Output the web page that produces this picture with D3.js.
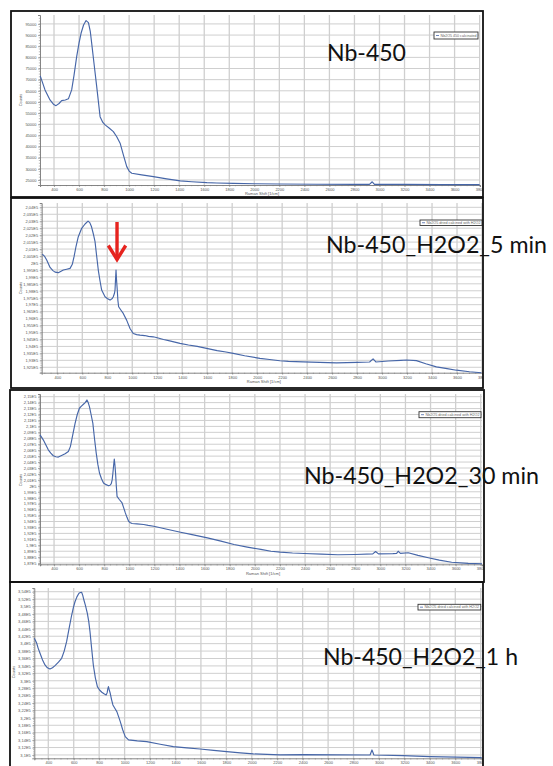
<!DOCTYPE html>
<html>
<head>
<meta charset="utf-8">
<script src="https://cdn.jsdelivr.net/npm/d3@7/dist/d3.min.js"></script>
<style>
  body { margin: 0; background: #fff; }
  svg { display: block; }
</style>
</head>
<body>
<svg id="chart" width="553" height="766"></svg>
<script>
// ---- Raman spectra: Nb-450 before and after H2O2 treatment ----

const xTickValues = [400, 600, 800, 1000, 1200, 1400, 1600, 1800, 2000, 2200, 2400, 2600, 2800, 3000, 3200, 3400, 3600, 3800];

// Nb-450
const shift450 = [290, 328, 368, 395, 416, 440, 461, 490, 515, 541, 560, 581, 600, 616, 636, 656, 675, 690, 701, 720, 741, 768, 790, 808, 840, 874, 900, 928, 955, 981, 1000, 1021, 1100, 1194, 1300, 1408, 1500, 1621, 1700, 1834, 2000, 2200, 2500, 2800, 2920, 2942, 2960, 3200, 3500, 3800];
const counts450 = [71700, 65400, 60900, 59000, 58350, 59300, 60600, 60900, 61400, 65400, 72000, 80300, 86500, 90800, 94500, 96500, 95600, 91500, 86300, 77000, 66900, 53400, 50800, 49700, 48300, 46700, 44500, 41500, 36000, 31000, 29000, 28000, 27300, 26500, 25500, 24600, 24200, 23800, 23650, 23500, 23300, 23200, 23100, 23050, 23050, 24200, 23050, 23000, 22950, 22900];
const yTicks450 = [95000, 90000, 85000, 80000, 75000, 70000, 65000, 60000, 55000, 50000, 45000, 40000, 35000, 30000, 25000];

// Nb-450_H2O2_5 min
const shift5min = [280, 300, 315, 342, 365, 382, 408, 430, 448, 475, 502, 520, 534, 550, 568, 595, 622, 646, 660, 674, 688, 702, 715, 728, 742, 755, 782, 800, 822, 840, 848, 857, 862, 866, 870, 874, 880, 885, 891, 910, 928, 955, 982, 1008, 1035, 1062, 1100, 1130, 1168, 1200, 1250, 1300, 1382, 1450, 1520, 1595, 1680, 1750, 1808, 1900, 2022, 2100, 2182, 2250, 2368, 2500, 2635, 2800, 2900, 2928, 2950, 3050, 3150, 3195, 3275, 3350, 3435, 3520, 3595, 3700, 3795];
const counts5min = [200640, 200450, 200210, 199680, 199450, 199340, 199300, 199400, 199490, 199550, 199610, 199900, 200450, 201200, 201890, 202490, 202800, 203010, 202900, 202600, 202100, 201530, 200500, 199490, 198700, 198050, 197570, 197450, 197330, 197450, 197570, 197800, 198050, 198800, 199490, 198800, 198050, 197300, 196850, 196600, 196370, 195890, 195290, 194930, 194850, 194810, 194780, 194720, 194690, 194620, 194500, 194400, 194220, 194100, 194000, 193860, 193700, 193600, 193500, 193330, 193140, 193060, 192970, 192920, 192890, 192850, 192820, 192850, 192880, 193100, 192880, 192950, 193000, 193020, 192980, 192750, 192530, 192400, 192290, 192180, 192110];
const yTicks5min = [204000, 203500, 203000, 202500, 202000, 201500, 201000, 200500, 200000, 199500, 199000, 198500, 198000, 197500, 197000, 196500, 196000, 195500, 195000, 194500, 194000, 193500, 193000, 192500];

// Nb-450_H2O2_30 min
const shift30min = [288, 300, 314, 334, 354, 374, 394, 414, 434, 460, 488, 514, 530, 541, 555, 568, 585, 602, 618, 634, 648, 662, 672, 682, 695, 709, 722, 736, 749, 762, 778, 794, 815, 834, 846, 856, 863, 869, 875, 880, 885, 890, 896, 902, 920, 942, 955, 968, 981, 994, 1008, 1022, 1060, 1114, 1150, 1194, 1300, 1408, 1500, 1622, 1730, 1834, 1940, 2048, 2128, 2203, 2300, 2394, 2530, 2662, 2800, 2940, 2962, 2985, 3100, 3130, 3142, 3160, 3222, 3300, 3382, 3470, 3568, 3700, 3810];
const counts30min = [208580, 208200, 207740, 206900, 206060, 205500, 205060, 204900, 204840, 205100, 205390, 205780, 206600, 207740, 209200, 210540, 212000, 213050, 213400, 213720, 214000, 214450, 214000, 213330, 212000, 210540, 208000, 205510, 203600, 202160, 201200, 200480, 200200, 200030, 200100, 200360, 201000, 202160, 203500, 204500, 203500, 202160, 200000, 198230, 197700, 197120, 196300, 195450, 194700, 194040, 193800, 193660, 193600, 193490, 193350, 193200, 192700, 192200, 191800, 191250, 190700, 190130, 189700, 189300, 189000, 188840, 188700, 188620, 188500, 188400, 188450, 188550, 188950, 188550, 188600, 188650, 189000, 188650, 188740, 188300, 187900, 187500, 187150, 186950, 186900];
const yTicks30min = [215000, 214000, 213000, 212000, 211000, 210000, 209000, 208000, 207000, 206000, 205000, 204000, 203000, 202000, 201000, 200000, 199000, 198000, 197000, 196000, 195000, 194000, 193000, 192000, 191000, 190000, 189000, 188000, 187000];

// Nb-450_H2O2_1 h
const shift1h = [290, 300, 309, 320, 335, 355, 374, 393, 413, 433, 453, 480, 505, 525, 544, 564, 584, 597, 610, 625, 641, 652, 662, 671, 680, 693, 707, 718, 728, 740, 754, 770, 786, 803, 821, 838, 855, 863, 868, 873, 878, 887, 897, 908, 923, 939, 952, 966, 985, 1005, 1031, 1100, 1174, 1280, 1383, 1490, 1593, 1700, 1803, 1910, 2012, 2120, 2222, 2406, 2668, 2930, 2945, 2960, 3189, 3401, 3611, 3808];
const counts1h = [341440, 340800, 340100, 338800, 337400, 335600, 334250, 333500, 333180, 333500, 334070, 335000, 336060, 338000, 340530, 344200, 347720, 349700, 351300, 352600, 353570, 353800, 353840, 353000, 351760, 350200, 348180, 346000, 343220, 339000, 334250, 330800, 328410, 327500, 326900, 326500, 326170, 326800, 327800, 328410, 327700, 326630, 325000, 323480, 322600, 321670, 320400, 318980, 316800, 314940, 314050, 313800, 313590, 312900, 312240, 311900, 311620, 311250, 310900, 310580, 310280, 310150, 310010, 310100, 310010, 310000, 311350, 310000, 309820, 309550, 309400, 309300];
const yTicks1h = [354000, 352000, 350000, 348000, 346000, 344000, 342000, 340000, 338000, 336000, 334000, 332000, 330000, 328000, 326000, 324000, 322000, 320000, 318000, 316000, 314000, 312000, 310000];

const titles = ["Nb-450", "Nb-450_H2O2_5 min", "Nb-450_H2O2_30 min", "Nb-450_H2O2_1 h"];
const legendNames = ["Nb2O5 450 calcinated", "Nb2O5 dried calcined with H2O2", "Nb2O5 dried calcined with H2O2", "Nb2O5 dried calcined with H2O2"];

// Excel-style scientific labels with decimal comma, e.g. 2,035E5
const fmtE5 = v => String(+(v / 1e5).toFixed(4)).replace(".", ",") + "E5";
const fmtPlain = v => String(v);

const panels = [
  { shift: shift450, counts: counts450, yTicks: yTicks450, fmt: fmtPlain, title: titles[0], legend: legendNames[0],
    frame: [11, 11, 483, 197], plot: [40, 15, 480, 185], xDom: [288, 3803], yDom: [22750, 99000],
    titleAt: [327, 61, 79], legendBox: [434, 32, 478, 39], countsAt: [22, 100], yStep: 5000, xTitle: true },
  { shift: shift5min, counts: counts5min, yTicks: yTicks5min, fmt: fmtE5, title: titles[1], legend: legendNames[1],
    frame: [11, 198, 483, 388], plot: [41.7, 203, 482, 372.7], xDom: [275, 3800], yDom: [192110, 204310],
    titleAt: [326, 252.7, 221], legendBox: [420, 220, 482, 225.5], countsAt: [22, 288], yStep: 500, xTitle: true },
  { shift: shift30min, counts: counts30min, yTicks: yTicks30min, fmt: fmtE5, title: titles[2], legend: legendNames[2],
    frame: [10, 390, 484, 582], plot: [40, 394, 482, 564.3], xDom: [288, 3810], yDom: [186800, 215450],
    titleAt: [304, 484, 235], legendBox: [419, 411.7, 481, 417.7], countsAt: [22, 480], yStep: 1000, xTitle: true },
  { shift: shift1h, counts: counts1h, yTicks: yTicks1h, fmt: fmtE5, title: titles[3], legend: legendNames[3],
    frame: [10, 582, 483, 772], plot: [34.3, 588, 482, 758.3], xDom: [290, 3810], yDom: [309100, 355000],
    titleAt: [323, 665, 195], legendBox: [418, 604.3, 480.7, 610], countsAt: [15, 672], yStep: 2000, xTitle: false }
];

const svg = d3.select("#chart");
const lineColor = "#4666a8";
const gridColor = "#cfcfcf";
const labelColor = "#555";
const smallFont = "'Liberation Sans', Arial, sans-serif";

panels.forEach((p, i) => {
  const [fx0, fy0, fx1, fy1] = p.frame;
  const [px0, py0, px1, py1] = p.plot;

  const clipId = "clip" + i;
  svg.append("clipPath").attr("id", clipId)
    .append("rect").attr("x", fx0).attr("y", fy0).attr("width", fx1 - fx0).attr("height", fy1 - fy0);

  const g = svg.append("g").attr("clip-path", `url(#${clipId})`);

  const x = d3.scaleLinear().domain(p.xDom).range([px0, px1]);
  const y = d3.scaleLinear().domain(p.yDom).range([py1, py0]);

  // grid
  g.append("g").selectAll("line").data(xTickValues).join("line")
    .attr("x1", d => x(d)).attr("x2", d => x(d)).attr("y1", py0).attr("y2", py1)
    .attr("stroke", gridColor).attr("stroke-width", 1.3);
  g.append("g").selectAll("line").data(p.yTicks).join("line")
    .attr("x1", px0).attr("x2", px1).attr("y1", d => y(d)).attr("y2", d => y(d))
    .attr("stroke", gridColor).attr("stroke-width", 1);

  // minor ticks
  const xMinor = d3.range(Math.ceil(p.xDom[0] / 50) * 50, p.xDom[1], 50);
  g.append("g").selectAll("line").data(xMinor).join("line")
    .attr("x1", d => x(d)).attr("x2", d => x(d)).attr("y1", py1).attr("y2", py1 + 1.2)
    .attr("stroke", "#777").attr("stroke-width", 0.5);
  const yMinor = d3.range(Math.ceil(p.yDom[0] / (p.yStep / 4)) * (p.yStep / 4), p.yDom[1], p.yStep / 4);
  g.append("g").selectAll("line").data(yMinor).join("line")
    .attr("x1", px0 - 1.2).attr("x2", px0).attr("y1", d => y(d)).attr("y2", d => y(d))
    .attr("stroke", "#777").attr("stroke-width", 0.5);

  // axes
  const xAxis = d3.axisBottom(x).tickValues(xTickValues).tickSize(2).tickPadding(1.2).tickFormat(d3.format("d"));
  const yAxis = d3.axisLeft(y).tickValues(p.yTicks).tickSize(2).tickPadding(1.5).tickFormat(p.fmt);
  const gx = g.append("g").attr("transform", `translate(0,${py1})`).call(xAxis);
  const gy = g.append("g").attr("transform", `translate(${px0},0)`).call(yAxis);
  [gx, gy].forEach(a => {
    a.select(".domain").attr("stroke", "#777").attr("stroke-width", 0.9);
    a.selectAll(".tick line").attr("stroke", "#777").attr("stroke-width", 0.6);
    a.selectAll(".tick text").attr("fill", labelColor)
      .style("font-family", smallFont).style("font-size", "4px");
  });

  // axis titles
  if (p.xTitle) {
    g.append("text").attr("x", (px0 + px1) / 2 + 2).attr("y", py1 + 10.3)
      .attr("text-anchor", "middle").attr("fill", labelColor)
      .style("font-family", smallFont).style("font-size", "4px")
      .text("Raman Shift [1/cm]");
  }
  g.append("text").attr("transform", `translate(${p.countsAt[0]},${p.countsAt[1]}) rotate(-90)`)
    .attr("text-anchor", "middle").attr("fill", labelColor)
    .style("font-family", smallFont).style("font-size", "4px")
    .text("Counts");

  // spectrum
  const pts = p.shift.map((s, k) => [s, p.counts[k]]);
  g.append("path").datum(pts)
    .attr("fill", "none").attr("stroke", lineColor).attr("stroke-width", 1.15)
    .attr("stroke-linejoin", "round")
    .attr("d", d3.line().x(d => x(d[0])).y(d => y(d[1])));

  // legend box
  const [lx0, ly0, lx1, ly1] = p.legendBox;
  g.append("rect").attr("x", lx0).attr("y", ly0).attr("width", lx1 - lx0).attr("height", ly1 - ly0)
    .attr("fill", "#fff").attr("stroke", "#333").attr("stroke-width", 0.9);
  const lmid = (ly0 + ly1) / 2;
  g.append("line").attr("x1", lx0 + 2).attr("x2", lx0 + 5).attr("y1", lmid).attr("y2", lmid)
    .attr("stroke", lineColor).attr("stroke-width", 0.8);
  g.append("text").attr("x", lx0 + 6.5).attr("y", lmid + 1)
    .attr("fill", "#666").style("font-family", smallFont).style("font-size", "3px")
    .attr("textLength", lx1 - lx0 - 8).attr("lengthAdjust", "spacingAndGlyphs")
    .text(p.legend);

  // frame
  svg.append("rect").attr("x", fx0).attr("y", fy0).attr("width", fx1 - fx0).attr("height", fy1 - fy0)
    .attr("fill", "none").attr("stroke", "#111").attr("stroke-width", 1.8);

  // panel title
  svg.append("text").attr("x", p.titleAt[0]).attr("y", p.titleAt[1])
    .attr("fill", "#111").style("font-family", "Lato, 'Open Sans', sans-serif").style("font-size", "23px")
    .attr("textLength", p.titleAt[2]).attr("lengthAdjust", "spacingAndGlyphs")
    .text(p.title);

  // red arrow marking the new band after H2O2 treatment
  if (i === 1) {
    const ax = x(878);
    const tipY = 261.5;
    const arrow = svg.append("g").attr("stroke", "#e6231e").attr("stroke-width", 3.4)
      .attr("fill", "none").attr("stroke-linecap", "butt");
    arrow.append("line").attr("x1", ax).attr("x2", ax).attr("y1", 222).attr("y2", tipY - 3);
    arrow.append("polyline").attr("points", `${ax - 8.7},${tipY - 16} ${ax},${tipY - 2} ${ax + 8.7},${tipY - 16}`)
      .attr("stroke-linejoin", "miter");
  }
});
</script>
</body>
</html>
